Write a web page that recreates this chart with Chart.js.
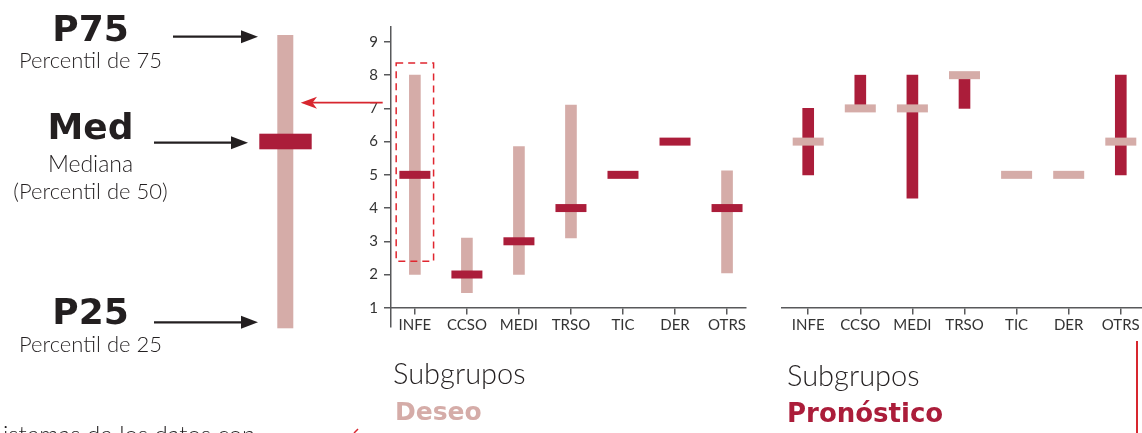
<!DOCTYPE html>
<html>
<head>
<meta charset="utf-8">
<script src="https://cdn.jsdelivr.net/npm/chart.js@4.4.1/dist/chart.umd.min.js"></script>
<style>
  html, body { margin: 0; padding: 0; background: #fff; }
  body { width: 1142px; height: 433px; position: relative; overflow: hidden; }
  canvas { position: absolute; top: 0; }
  #deseo { left: 350px; }
  #pronostico { left: 781px; }
  .t { position: absolute; white-space: nowrap; line-height: 1; color: #231f20; }
  .light { font-family: 'Lato', sans-serif; font-weight: 300; }
  .bold { font-family: 'DejaVu Sans', sans-serif; font-weight: bold; }
  .key { left: 0; width: 181px; text-align: center; }
  svg { position: absolute; left: 0; top: 0; }
</style>
</head>
<body>
<canvas id="deseo" width="398" height="345"></canvas>
<canvas id="pronostico" width="361" height="345"></canvas>

<svg width="1142" height="433">
  <!-- key: the schematic bar -->
  <rect x="277.3" y="35" width="16" height="293.3" fill="#d5aca8"/>
  <rect x="259.3" y="133.7" width="52.4" height="15.6" fill="#ab1d3a"/>
  <!-- black arrows -->
  <g stroke="#231f20" stroke-width="2.2" fill="#231f20">
    <line x1="173" y1="36.7" x2="242" y2="36.7"/>
    <polygon points="241,30.2 258,36.7 241,43.2" stroke="none"/>
    <line x1="154" y1="142.7" x2="232" y2="142.7"/>
    <polygon points="231,136.2 248,142.7 231,149.2" stroke="none"/>
    <line x1="154" y1="322.3" x2="242" y2="322.3"/>
    <polygon points="241,315.8 258,322.3 241,328.8" stroke="none"/>
  </g>
  <!-- red arrow from the highlighted bar -->
  <line x1="382.7" y1="102.7" x2="312" y2="102.7" stroke="#d7262e" stroke-width="1.8"/>
  <polygon points="300.7,102.7 317,96.7 312.5,102.7 317,108.7" fill="#d7262e"/>
  <!-- red marks at the bottom -->
  <line x1="1137" y1="341" x2="1137" y2="433" stroke="#d7262e" stroke-width="2"/>
  <line x1="354" y1="433" x2="358" y2="429" stroke="#d7262e" stroke-width="1.5"/>
</svg>

<div class="t bold key" style="top:10.8px;font-size:36px;">P75</div>
<div class="t light key" style="top:49.3px;font-size:22px;">Percentil de 75</div>
<div class="t bold key" style="top:108.8px;font-size:36px;">Med</div>
<div class="t light key" style="top:152.3px;font-size:23px;">Mediana</div>
<div class="t light key" style="top:180.3px;font-size:22px;">(Percentil de 50)</div>
<div class="t bold key" style="top:293.5px;font-size:36px;">P25</div>
<div class="t light key" style="top:333px;font-size:22px;">Percentil de 25</div>

<div class="t light" style="left:393px;top:357.5px;font-size:29px;">Subgrupos</div>
<div class="t bold" style="left:395px;top:398.8px;font-size:25px;color:#d5aca8;">Deseo</div>
<div class="t light" style="left:787px;top:360.2px;font-size:29px;">Subgrupos</div>
<div class="t bold" style="left:787px;top:399.7px;font-size:26px;color:#ab1d3a;">Pronóstico</div>

<div class="t light" style="left:3px;top:422px;font-size:24px;">istemas de los datos con</div>

<script>
// categories and tick labels
const categories = ['INFE', 'CCSO', 'MEDI', 'TRSO', 'TIC', 'DER', 'OTRS'];
const yTicks = [1, 2, 3, 4, 5, 6, 7, 8, 9];

// Subgrupos "Deseo": P25 / P75 / median (null = no range drawn)
const deseoP25 = [2, 1.45, 2, 3.1, null, null, 2.05];
const deseoP75 = [8, 3.1, 5.85, 7.1, null, null, 5.12];
const deseoMedian = [5, 2, 3, 4, 5, 6, 4];

// Subgrupos "Pronóstico"
const pronosticoP25 = [5, 7, 4.3, 7, null, null, 5];
const pronosticoP75 = [7, 8, 8, 8, null, null, 8];
const pronosticoMedian = [6, 7, 7, 8, 5, 5, 6];

// dashed box around the INFE "Deseo" range (value units)
const highlightCategory = 'INFE';
const highlightRange = [2.4, 8.37];

const PINK = '#d5aca8';
const CRIMSON = '#ab1d3a';
const AXIS = '#58595b';

Chart.defaults.font.family = 'Lato';
Chart.defaults.font.size = 15;
Chart.defaults.color = '#333';

function rangeData(p25, p75) {
    return categories
        .map((c, i) => (p25[i] == null ? null : { x: i, y: [p25[i], p75[i]] }))
        .filter(Boolean);
}

function medianData(med) {
    return categories.map((c, i) => ({ x: i, y: med[i] }));
}

function makeChart(id, p25, p75, med, rangeColor, medianColor, opts) {
    const ctx = document.getElementById(id).getContext('2d');
    return new Chart(ctx, {
        type: 'bar',
        data: {
            datasets: [
                {
                    type: 'line',
                    data: medianData(med),
                    showLine: false,
                    pointStyle: 'line',
                    pointRadius: 15.5,
                    pointHoverRadius: 15.5,
                    pointBorderWidth: 8,
                    pointHoverBorderWidth: 8,
                    borderColor: medianColor,
                    backgroundColor: medianColor,
                    order: 0,
                    clip: false
                },
                {
                    data: rangeData(p25, p75),
                    backgroundColor: rangeColor,
                    barThickness: 11,
                    borderWidth: 0,
                    order: 1
                }
            ]
        },
        options: {
            responsive: false,
            animation: false,
            events: [],
            layout: { autoPadding: false, padding: { top: 27, bottom: 18, left: 0, right: 0 } },
            plugins: { legend: { display: false }, tooltip: { enabled: false } },
            scales: {
                x: {
                    type: 'linear',
                    position: { y: 1 },
                    offset: false,
                    min: opts.xMin,
                    max: opts.xMax,
                    afterBuildTicks: (scale) => {
                        scale.ticks = categories.map((c, i) => ({ value: i }));
                    },
                    ticks: {
                        padding: 2,
                        autoSkip: false,
                        maxRotation: 0,
                        callback: (v) => categories[v]
                    },
                    grid: {
                        offset: false,
                        drawOnChartArea: false,
                        tickLength: 6,
                        color: AXIS,
                        lineWidth: 1.5
                    },
                    border: { display: true, color: AXIS, width: 1.5 }
                },
                y: {
                    display: opts.showY,
                    min: 0.42,
                    max: 9.45,
                    afterBuildTicks: (scale) => {
                        scale.ticks = yTicks.map((v) => ({ value: v }));
                    },
                    afterFit: (scale) => { if (opts.showY) scale.width = 41; },
                    ticks: { padding: 6 },
                    grid: {
                        drawOnChartArea: false,
                        tickLength: 7,
                        color: AXIS,
                        lineWidth: 1.5
                    },
                    border: { display: true, color: AXIS, width: 1.5 }
                }
            }
        },
        plugins: opts.plugins || []
    });
}

const highlightBox = {
    id: 'highlightBox',
    afterDatasetsDraw(chart) {
        const { ctx, scales } = chart;
        const cx = scales.x.getPixelForValue(categories.indexOf(highlightCategory));
        const top = scales.y.getPixelForValue(highlightRange[1]);
        const bottom = scales.y.getPixelForValue(highlightRange[0]);
        ctx.save();
        ctx.strokeStyle = '#e0262f';
        ctx.lineWidth = 1.5;
        ctx.setLineDash([7, 5]);
        ctx.strokeRect(cx - 18.7, top, 37.4, bottom - top);
        ctx.restore();
    }
};

makeChart('deseo', deseoP25, deseoP75, deseoMedian, PINK, CRIMSON,
    { xMin: -0.459, xMax: 6.367, showY: true, plugins: [highlightBox] });

makeChart('pronostico', pronosticoP25, pronosticoP75, pronosticoMedian, CRIMSON, PINK,
    { xMin: -0.522, xMax: 6.407, showY: false });
</script>
</body>
</html>
